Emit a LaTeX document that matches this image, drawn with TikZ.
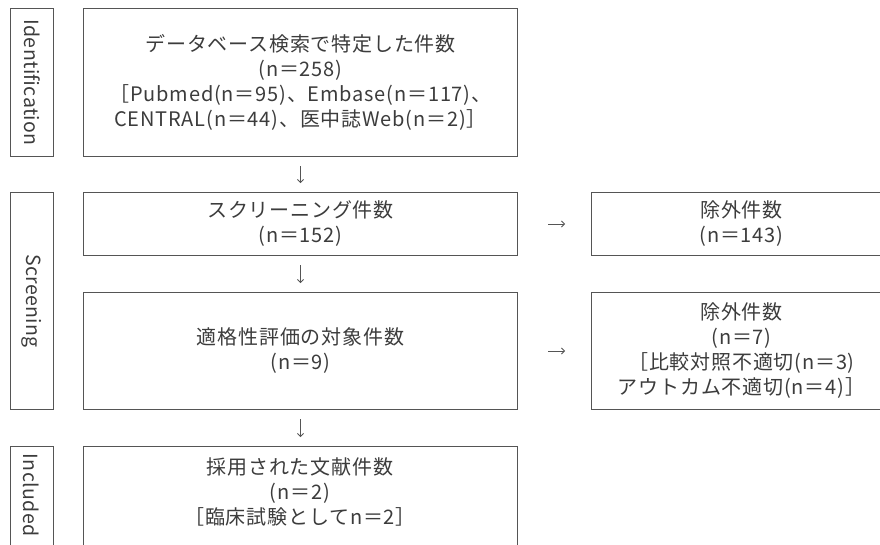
\documentclass[tikz,border=0pt]{standalone}
\usepackage{fontspec}
\setmainfont{Noto Sans CJK JP}[LetterSpace=4]
\newfontfamily\latw[LetterSpace=2]{Noto Sans CJK JP}
\usetikzlibrary{arrows.meta}
\definecolor{linec}{HTML}{555555}
\definecolor{textc}{HTML}{3C3C3C}
\tikzset{
  box/.style={draw=linec, line width=1pt, inner sep=0pt, anchor=north west,
    align=center, text=textc, font=\fontsize{20}{25}\selectfont},
  txt/.style={inner sep=0pt, align=center, text=textc, font=\fontsize{20}{25}\selectfont},
  sidetxt/.style={inner sep=0pt, rotate=-90, text=textc, font=\latw\fontsize{19.5}{20}\selectfont},
  arr/.style={draw=linec, line width=0.8pt, -{Straight Barb[length=3pt,width=6pt]}},
}
\begin{document}
\begin{tikzpicture}[x=1pt,y=-1pt]
\useasboundingbox (0,0) rectangle (880,544);
\clip (0,0) rectangle (880,544);
% side labels
\node[box, minimum width=43, minimum height=148] (idL) at (10,8) {};
\node[sidetxt] (idT) at (idL.center) {Identification};
\node[box, minimum width=43, minimum height=217] (scL) at (10,192) {};
\node[sidetxt] (scT) at (scL.center) {Screening};
\node[box, minimum width=43, minimum height=120] (inL) at (10,446) {};
\node[sidetxt] (inT) at (31.5,495) {Included};
% main boxes
\node[box, minimum width=434, minimum height=148] (b1) at (83,8)
  {データベース検索で特定した件数\\(n＝258)\\［Pubmed(n＝95)、Embase(n＝117)、\\CENTRAL(n＝44)、医中誌Web(n＝2)］};
\node[box, minimum width=434, minimum height=63] (b2) at (83,192)
  {スクリーニング件数\\(n＝152)};
\node[box, minimum width=300, minimum height=63] (e1) at (591,192)
  {除外件数\\(n＝143)};
\node[box, minimum width=434, minimum height=117] (b3) at (83,292)
  {適格性評価の対象件数\\(n＝9)};
\node[box, minimum width=300, minimum height=117] (e2) at (591,292)
  {除外件数\\(n＝7)\\［比較対照不適切(n＝3)\\アウトカム不適切(n＝4)］};
\node[box, minimum width=434, minimum height=120] (b4) at (83,446) {};
\node[txt] (b4t) at (300,492) {採用された文献件数\\(n＝2)\\［臨床試験としてn＝2］};
% arrows
\draw[arr] ([yshift=-9pt]b1.south) -- ([yshift=9pt]b2.north);
\draw[arr] ([yshift=-9pt]b2.south) -- ([yshift=9pt]b3.north);
\draw[arr] ([yshift=-9pt]b3.south) -- ([yshift=9pt]b4.north);
\draw[arr] ([xshift=30pt]b2.east) -- ([xshift=-26pt]e1.west);
\draw[arr] ([xshift=30pt]b3.east) -- ([xshift=-26pt]e2.west);
\end{tikzpicture}
\end{document}
